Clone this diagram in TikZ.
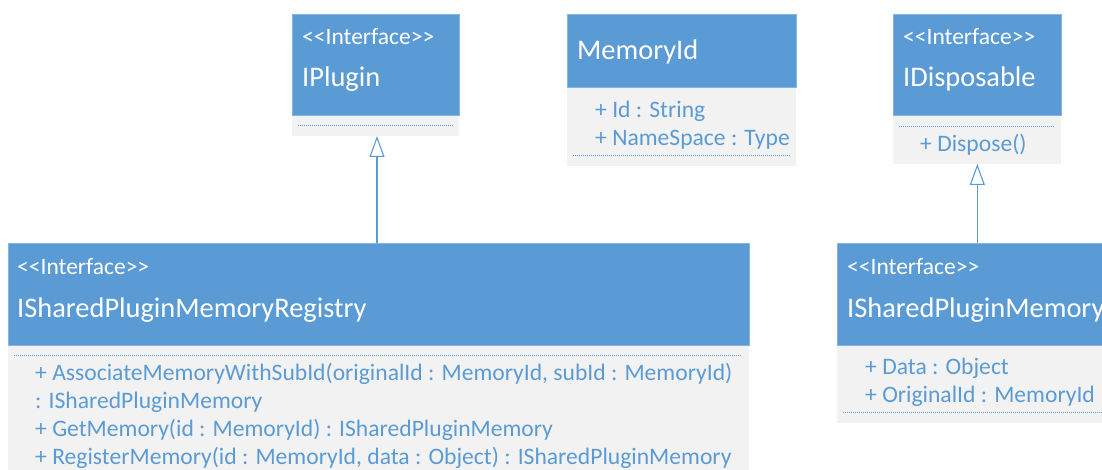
\documentclass[tikz,border=0pt]{standalone}
\usepackage{fontspec}
\setmainfont{Carlito}
\usetikzlibrary{positioning, arrows.meta}
\definecolor{umlblue}{RGB}{91,155,213}
\definecolor{umlgrey}{RGB}{242,242,242}
\newcommand{\stereotype}{<\kern0pt<Interface>\kern0pt>}
\tikzset{
  head/.style={fill=umlblue, draw=umlblue!75!white, line width=0.6pt, anchor=north west, inner sep=0pt},
  body/.style={fill=umlgrey, inner sep=0pt},
  stereo/.style={anchor=base west, text=white, inner sep=0pt, font=\fontsize{23.5}{28}\selectfont},
  title/.style={anchor=base west, text=white, inner sep=0pt, font=\fontsize{28.4}{34}\selectfont},
  member/.style={anchor=base west, text=umlblue, inner sep=0pt, font=\fontsize{23.6}{28}\selectfont},
  sepline/.style={umlblue, line width=0.8pt, dash pattern=on 1pt off 1pt},
  implements/.style={umlblue, line width=1.1pt, -{Triangle[open, length=21pt, width=15pt, line width=1.1pt]}}
}

\begin{document}
\begin{tikzpicture}[x=1pt, y=-1pt]
  \useasboundingbox (0,0) rectangle (1102,470);
  \clip (0,0) rectangle (1102,470);

  % IPlugin
  \node[head, minimum width=167pt, minimum height=101pt] (plugHead) at (292,14) {};
  \node[body, minimum width=167pt, minimum height=20pt, below=0pt of plugHead] (plugBody) {};
  \node[stereo] (plugStereo) at (302,45) {\stereotype};
  \node[title] (plugName) at (302,87) {IPlugin};
  \draw[sepline] (298,125) -- (453,125);

  % MemoryId
  \node[head, minimum width=229pt, minimum height=73pt] (memHead) at (567,14) {};
  \node[body, minimum width=229pt, minimum height=78pt, below=0pt of memHead] (memBody) {};
  \node[title] (memName) at (577,60) {MemoryId};
  \node[member] (memId) at (595,118) {+ Id : String};
  \node[member] (memNs) at (595,146) {+ NameSpace : Type};
  \draw[sepline] (573,155) -- (790,155);

  % IDisposable
  \node[head, minimum width=168pt, minimum height=101pt] (dispHead) at (893,14) {};
  \node[body, minimum width=168pt, minimum height=48pt, below=0pt of dispHead] (dispBody) {};
  \node[stereo] (dispStereo) at (903,45) {\stereotype};
  \node[title] (dispName) at (903,87) {IDisposable};
  \draw[sepline] (899,126) -- (1055,126);
  \node[member] (dispMethod) at (920,152) {+ Dispose()};

  % ISharedPluginMemoryRegistry
  \node[head, minimum width=741pt, minimum height=102pt] (regHead) at (8,243) {};
  \node[body, minimum width=741pt, minimum height=130pt, below=0pt of regHead] (regBody) {};
  \node[stereo] (regStereo) at (17,274) {\stereotype};
  \node[title] (regName) at (17,317) {ISharedPluginMemoryRegistry};
  \draw[sepline] (14,355) -- (742,355);
  \node[member] (regAssoc) at (35,380) {+ AssociateMemoryWithSubId(originalId : MemoryId, subId : MemoryId)};
  \node[member] (regAssocRet) at (35,408) {: ISharedPluginMemory};
  \node[member] (regGet) at (35,436) {+ GetMemory(id : MemoryId) : ISharedPluginMemory};
  \node[member] (regRegister) at (35,464) {+ RegisterMemory(id : MemoryId, data : Object) : ISharedPluginMemory};

  % ISharedPluginMemory
  \node[head, minimum width=280pt, minimum height=102pt] (shmHead) at (837,243) {};
  \node[body, minimum width=280pt, minimum height=77pt, below=0pt of shmHead] (shmBody) {};
  \node[stereo] (shmStereo) at (847,274) {\stereotype};
  \node[title] (shmName) at (847,317) {ISharedPluginMemory};
  \node[member] (shmData) at (865,374) {+ Data : Object};
  \node[member] (shmOrig) at (865,402) {+ OriginalId : MemoryId};
  \draw[sepline] (843,412) -- (1102,412);

  % generalisations
  \draw[implements] (regHead.north -| 377,0) -- (plugBody.south -| 377,0);
  \draw[implements] (shmHead.north -| dispBody.south) -- (dispBody.south);
\end{tikzpicture}
\end{document}
